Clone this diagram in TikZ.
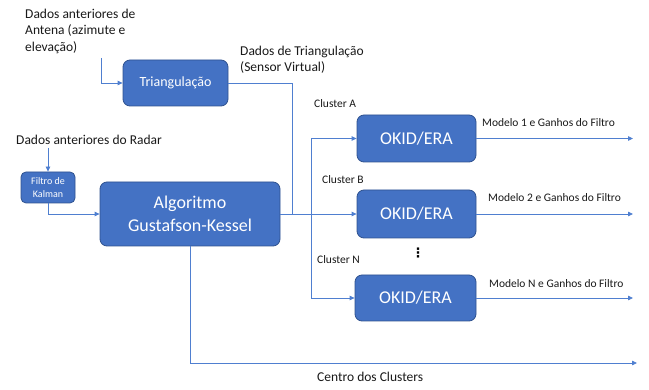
\documentclass[tikz,border=0pt]{standalone}
\usepackage{fontspec}
\setmainfont{Carlito}
\newfontfamily\dejavu{DejaVu Sans}
\usetikzlibrary{arrows.meta}
\definecolor{boxblue}{HTML}{4472C4}
\definecolor{boxedge}{HTML}{2F528F}
\definecolor{linkblue}{HTML}{4F7FD0}
\begin{document}
\begin{tikzpicture}[x=1pt,y=-1pt,
  blk/.style={draw=boxedge, line width=0.8pt, fill=boxblue, rounded corners=7pt, text=white, inner sep=0pt, align=center},
  link/.style={draw=linkblue, line width=0.8pt, -{Triangle[length=5pt,width=4.5pt]}},
  plain/.style={draw=linkblue, line width=0.8pt},
  lbl/.style={inner sep=0pt, anchor=west, align=left, text=black!90},
  big/.style={font=\fontsize{13.5}{16.5}\selectfont},
  small/.style={font=\fontsize{11.5}{14}\selectfont}
]
\useasboundingbox (0,0) rectangle (649,390);

% blocks
\node[blk, minimum width=105, minimum height=46, font=\fontsize{14}{16}\selectfont] (tri) at (175.5,83) {Triangulação};
\node[blk, minimum width=180, minimum height=64, font=\fontsize{18}{23}\selectfont] (gk) at (190,214) {Algoritmo\\Gustafson-Kessel};
\node[blk, minimum width=54, minimum height=31, rounded corners=5pt, font=\fontsize{10}{12.5}\selectfont] (kal) at (48,187.5) {Filtro de\\Kalman};
\node[blk, minimum width=119, minimum height=47, font=\fontsize{18}{20}\selectfont] (okA) at (416.5,138.5) {OKID/ERA};
\node[blk, minimum width=119, minimum height=48, font=\fontsize{18}{20}\selectfont] (okB) at (416.5,214) {OKID/ERA};
\node[blk, minimum width=121, minimum height=46, font=\fontsize{18}{20}\selectfont] (okN) at (415.5,298) {OKID/ERA};

% coordinates
\coordinate (antIn) at (101,58);
\coordinate (radIn) at (48,148);
\coordinate (j1) at (292,214);
\coordinate (bus) at (311,214);
\coordinate (oA) at (633,138.5);
\coordinate (oB) at (633,214);
\coordinate (oN) at (633,298);
\coordinate (cEnd) at (637,363);

% connectors
\draw[link] (antIn) |- (tri.west);
\draw[plain] (tri.east) -| (j1);
\draw[link] (radIn) -- (kal.north);
\draw[link] (kal.south) |- (gk.west);
\draw[link] (gk.east) -- (okB.west);
\draw[link] (bus) |- (okA.west);
\draw[link] (bus) |- (okN.west);
\draw[link] (okA.east) -- (oA);
\draw[link] (okB.east) -- (oB);
\draw[link] (okN.east) -- (oN);
\draw[link] (gk.south) |- (cEnd);

% labels
\node[lbl, big] (antTxt) at (25,31) {Dados anteriores de\\Antena (azimute e\\elevação)};
\node[lbl, big] (triTxt) at (240,60) {Dados de Triangulação\\(Sensor Virtual)};
\node[lbl, big] (radTxt) at (16,140) {Dados anteriores do Radar};
\node[lbl, small] (clA) at (314,104) {Cluster A};
\node[lbl, small] (clB) at (322,180) {Cluster B};
\node[lbl, small] (clN) at (317,260) {Cluster N};
\node[lbl, small] (mA) at (482,123) {Modelo 1 e Ganhos do Filtro};
\node[lbl, small] (mB) at (488,198) {Modelo 2 e Ganhos do Filtro};
\node[lbl, small] (mN) at (489,284) {Modelo N e Ganhos do Filtro};
\node[inner sep=0pt, font=\fontsize{13}{13}\selectfont\bfseries\dejavu] (dots) at (418,253) {⋮};
\node[lbl, big] (cTxt) at (317,377) {Centro dos Clusters};
\end{tikzpicture}
\end{document}
